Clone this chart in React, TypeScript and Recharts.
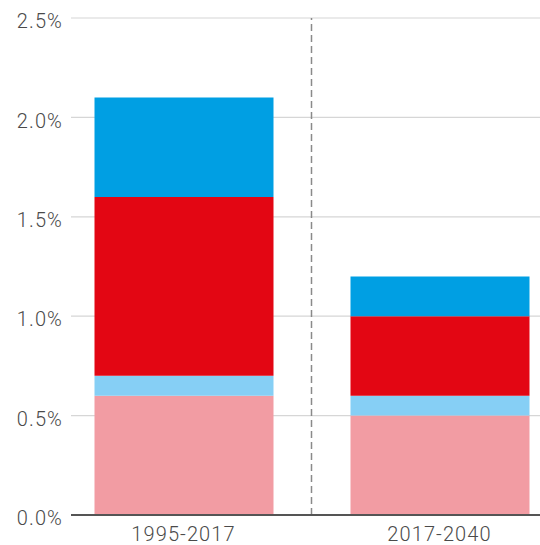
import { BarChart, Bar, XAxis, YAxis, CartesianGrid, ReferenceLine } from "recharts";

const periods = ["1995-2017", "2017-2040"];
const seriesA = [0.6, 0.5];
const seriesB = [0.1, 0.1];
const seriesC = [0.9, 0.4];
const seriesD = [0.5, 0.2];
const yTicks = [0, 0.5, 1.0, 1.5, 2.0, 2.5];

const data = periods.map((p, i) => ({
  period: p,
  a: seriesA[i],
  b: seriesB[i],
  c: seriesC[i],
  d: seriesD[i],
}));

const pad = { left: -15.5, right: -27.5 };
const font = "Roboto, 'Helvetica Neue', Arial, sans-serif";
const tickStyle = { fill: "#4a4a4a", fontSize: 20, fontFamily: font, fontWeight: 300, letterSpacing: 1.1 };

export default function App() {
  return (
    <div style={{ position: "absolute", left: 0, top: 0, fontFamily: font }}>
      <BarChart
        width={540}
        height={545}
        data={data}
        margin={{ top: 18, right: 0, bottom: 0, left: 0 }}
        barSize={179}
      >
        <CartesianGrid vertical={false} stroke="#d6d6d6" strokeWidth={1.2} />
        <XAxis
          dataKey="period"
          padding={pad}
          height={30}
          tickLine={false}
          axisLine={{ stroke: "#555", strokeWidth: 2 }}
          tick={tickStyle}
          tickMargin={6}
        />
        <YAxis
          width={71}
          domain={[0, 2.5]}
          ticks={yTicks}
          tickFormatter={(v) => `${v.toFixed(1)}%`}
          tickLine={false}
          axisLine={false}
          tick={{ ...tickStyle, dy: 3 }}
        />
        <ReferenceLine x={periods[1]} position="start" stroke="#8a8a8a" strokeDasharray="7 4" strokeWidth={1.5} />
        <Bar dataKey="a" stackId="s" fill="#f29ca3" isAnimationActive={false} />
        <Bar dataKey="b" stackId="s" fill="#86cff5" isAnimationActive={false} />
        <Bar dataKey="c" stackId="s" fill="#e30613" isAnimationActive={false} />
        <Bar dataKey="d" stackId="s" fill="#009fe3" isAnimationActive={false} />
      </BarChart>
    </div>
  );
}
